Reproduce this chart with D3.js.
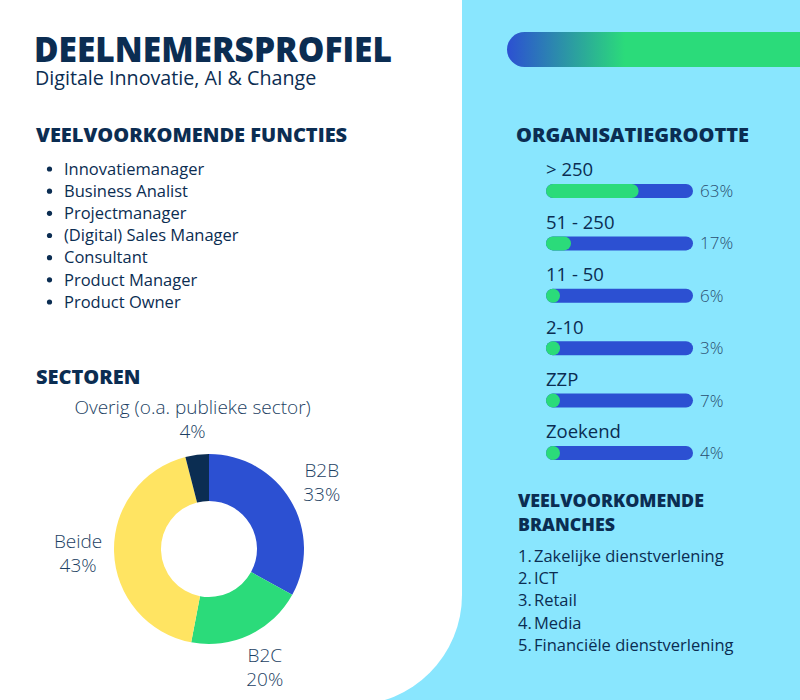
<!DOCTYPE html>
<html><head><meta charset="utf-8">
<script src="https://cdn.jsdelivr.net/npm/d3@7"></script>
<style>
html,body{margin:0;padding:0;background:#fff;}
svg{display:block;font-family:"Open Sans",sans-serif;}
</style></head>
<body>
<svg id="chart" width="800" height="700"></svg>
<script>
const title = "DEELNEMERSPROFIEL";
const subtitle = "Digitale Innovatie, AI & Change";
const functiesTitle = "VEELVOORKOMENDE FUNCTIES";
const functies = ["Innovatiemanager","Business Analist","Projectmanager","(Digital) Sales Manager","Consultant","Product Manager","Product Owner"];
const sectorTitle = "SECTOREN";
const sectorLabels = ["B2B","B2C","Beide","Overig (o.a. publieke sector)"];
const sectorValues = [33,20,43,4];
const orgTitle = "ORGANISATIEGROOTTE";
const orgLabels = ["> 250","51 - 250","11 - 50","2-10","ZZP","Zoekend"];
const orgValues = [63,17,6,3,7,4];
const branchesTitle = ["VEELVOORKOMENDE","BRANCHES"];
const branches = ["Zakelijke dienstverlening","ICT","Retail","Media","Financiële dienstverlening"];

const navy = "#0b2d52", blue = "#2c50d2", green = "#2bdb7a", yellow = "#ffe462", sky = "#89e6fe";
const textCol = "#1d3f63";

const svg = d3.select("#chart");

// backgrounds
svg.append("rect").attr("width",800).attr("height",700).attr("fill",sky);
const W = 462, R = 110, B = 705;
svg.append("path").attr("fill","#fff")
  .attr("d",`M0,0 H${W} V${B-R} A${R},${R} 0 0 1 ${W-R},${B} H0 Z`);

// decorative gradient bar
const defs = svg.append("defs");
const grad = defs.append("linearGradient").attr("id","g1").attr("gradientUnits","userSpaceOnUse")
  .attr("x1",507).attr("x2",625).attr("y1",0).attr("y2",0);
grad.append("stop").attr("offset","0%").attr("stop-color",blue);
grad.append("stop").attr("offset","100%").attr("stop-color",green);
svg.append("rect").attr("x",507).attr("y",32).attr("width",320).attr("height",35)
  .attr("rx",17.5).attr("fill","url(#g1)");

// title
svg.append("text").attr("x",34).attr("y",62).text(title)
  .attr("font-size",35).attr("font-weight",800).attr("fill",navy)
  .attr("textLength",358).attr("lengthAdjust","spacingAndGlyphs");
svg.append("text").attr("x",35).attr("y",85).text(subtitle)
  .attr("font-size",19.7).attr("fill",navy);

// functies
svg.append("text").attr("x",36).attr("y",142).text(functiesTitle)
  .attr("font-size",20).attr("font-weight",800).attr("fill",navy);
const fy = d3.scalePoint().domain(functies).range([169,302]);
const fg = svg.append("g");
fg.selectAll("circle").data(functies).join("circle")
  .attr("cx",49.5).attr("cy",d=>fy(d)).attr("r",2.6).attr("fill",navy);
fg.selectAll("text").data(functies).join("text")
  .attr("x",64).attr("y",d=>fy(d)).attr("dy","0.35em").text(d=>d)
  .attr("font-size",16.5).attr("fill",navy);

// sectoren
svg.append("text").attr("x",36).attr("y",384).text(sectorTitle)
  .attr("font-size",20).attr("font-weight",800).attr("fill",navy);
const cx = 209, cy = 549;
const sectorColors = d3.scaleOrdinal().domain(sectorLabels).range([blue,green,yellow,navy]);
const pie = d3.pie().sort(null).value(d=>d.v);
const sdata = pie(sectorLabels.map((l,i)=>({l,v:sectorValues[i]})));
const arc = d3.arc().innerRadius(48).outerRadius(95);
const labelArc = d3.arc().innerRadius(131).outerRadius(131);
const dg = svg.append("g").attr("transform",`translate(${cx},${cy})`);
dg.selectAll("path").data(sdata).join("path").attr("d",arc)
  .attr("fill",d=>sectorColors(d.data.l));
const lg = dg.selectAll("g.lab").data(sdata).join("g").attr("class","lab")
  .attr("transform",d=>`translate(${labelArc.centroid(d)})`);
lg.append("text").attr("y",-12).attr("dy","0.35em").attr("text-anchor","middle")
  .text(d=>d.data.l).attr("font-size",19).attr("font-weight",300).attr("fill",textCol);
lg.append("text").attr("y",12).attr("dy","0.35em").attr("text-anchor","middle")
  .text(d=>d.data.v+"%").attr("font-size",19).attr("font-weight",300).attr("fill",textCol);

// organisatiegrootte
svg.append("text").attr("x",516).attr("y",142).text(orgTitle)
  .attr("font-size",20).attr("font-weight",800).attr("fill",navy);
const oy = d3.scalePoint().domain(orgLabels).range([191,453]);
const ox = d3.scaleLinear().domain([0,100]).range([0,147]);
const bh = 14, bx = 546;
const og = svg.append("g");
const rows = og.selectAll("g").data(orgLabels.map((l,i)=>({l,v:orgValues[i]}))).join("g")
  .attr("transform",d=>`translate(${bx},${oy(d.l)})`);
rows.append("rect").attr("x",0).attr("y",-bh/2).attr("width",ox(100)).attr("height",bh)
  .attr("rx",bh/2).attr("fill",blue);
rows.append("rect").attr("x",0).attr("y",-bh/2).attr("width",d=>Math.max(bh,ox(d.v))).attr("height",bh)
  .attr("rx",bh/2).attr("fill",green);
rows.append("text").attr("x",0).attr("y",-21).attr("dy","0.35em").text(d=>d.l)
  .attr("font-size",18.5).attr("fill",navy);
rows.append("text").attr("x",ox(100)+7).attr("y",0).attr("dy","0.35em").text(d=>d.v+"%")
  .attr("font-size",17).attr("font-weight",300).attr("fill","#2b4e70");

// branches
svg.append("text").attr("x",518).attr("y",507).text(branchesTitle[0])
  .attr("font-size",17.8).attr("font-weight",800).attr("fill",navy);
svg.append("text").attr("x",518).attr("y",531).text(branchesTitle[1])
  .attr("font-size",17.8).attr("font-weight",800).attr("fill",navy);
const by = d3.scalePoint().domain(branches).range([556,645]);
const bg = svg.append("g");
bg.selectAll("text.n").data(branches).join("text").attr("class","n")
  .attr("x",518).attr("y",d=>by(d)).attr("dy","0.35em").text((d,i)=>(i+1)+".")
  .attr("font-size",16.5).attr("fill",navy);
bg.selectAll("text.t").data(branches).join("text").attr("class","t")
  .attr("x",534).attr("y",d=>by(d)).attr("dy","0.35em").text(d=>d)
  .attr("font-size",16.5).attr("fill",navy);
</script>
</body></html>
